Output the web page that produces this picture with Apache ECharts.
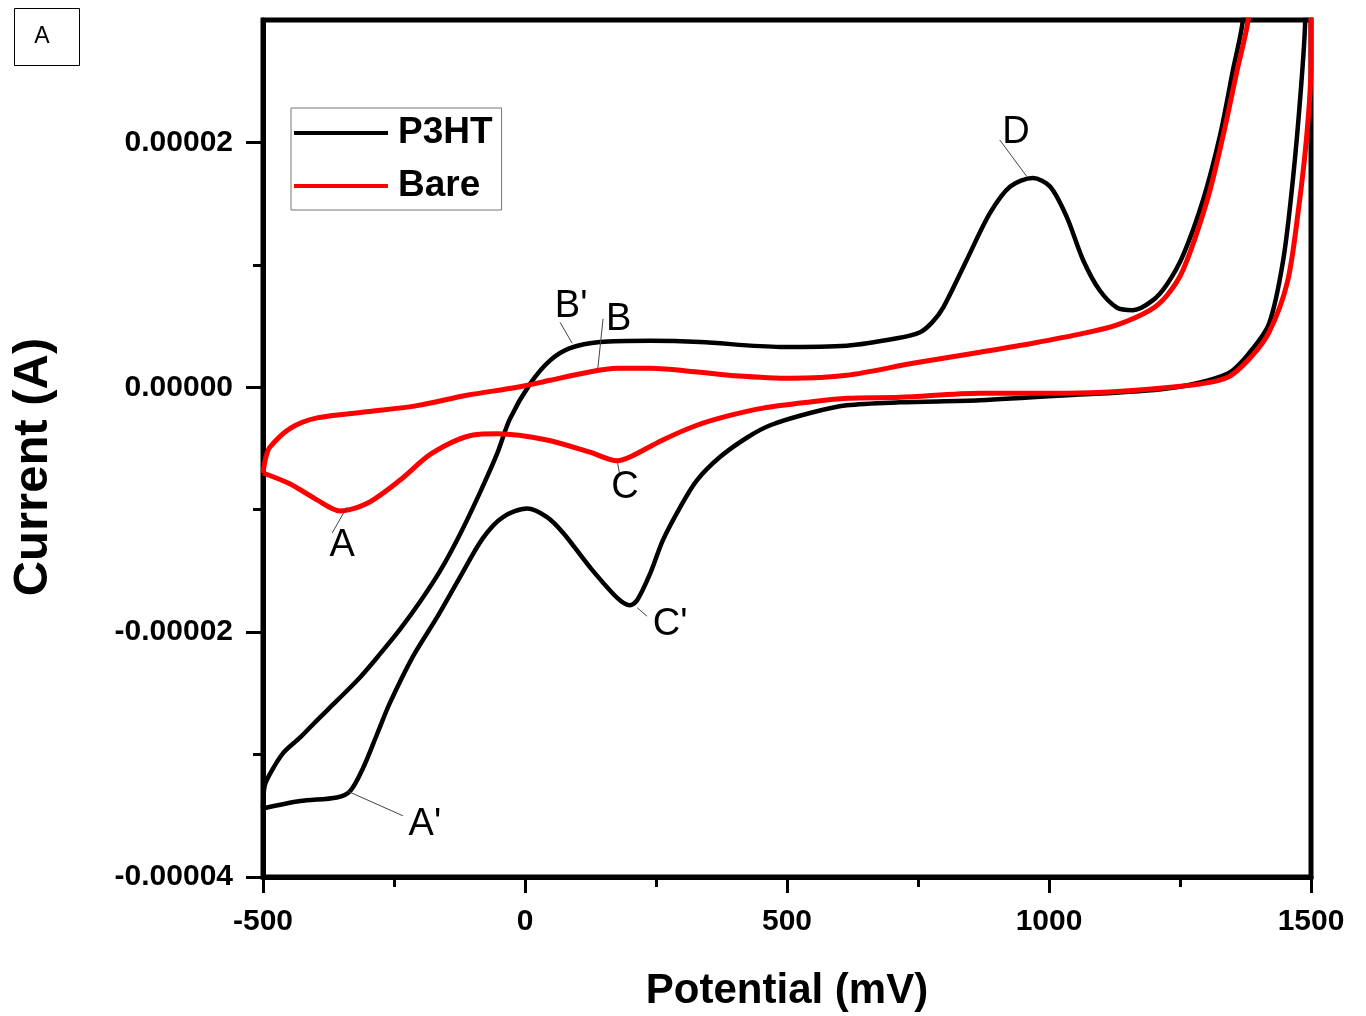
<!DOCTYPE html>
<html><head><meta charset="utf-8">
<script src="https://cdn.jsdelivr.net/npm/echarts@6/dist/echarts.min.js"></script>
<style>html,body{margin:0;padding:0;background:#fff}#chart{width:1366px;height:1016px}</style>
</head><body><div id="chart"></div>
<script>
// Axis ticks (potential in mV, current in µA; labels shown in A)
const xMajorTicks = [-500, 0, 500, 1000, 1500];
const yMajorTicks = [-40, -20, 0, 20];
const yMinorTicks = [-30, -10, 10];

// P3HT cyclic voltammogram: forward scan (-500 -> 1500) then reverse (1500 -> -500)
const p3htPotential = [-500,-497,-487,-462,-429,-397,-359,-315,-277,-239,-200,-162,-124,-86,-53,-29,10,48,86,143,239,334,487,614,710,754,777,798,843,887,926,969,1002,1034,1065,1097,1130,1160,1198,1225,1256,1294,1326,1351,1370,1400,1450,1500,
  1494,1489,1481,1466,1447,1420,1384,1340,1225,1034,868,716,614,544,468,424,372,328,296,263,239,214,200,176,124,73,42,4,-42,-80,-124,-168,-214,-258,-282,-309,-334,-359,-429,-500];
const p3htCurrent = [-34.4,-32.6,-31.6,-29.9,-28.6,-27.2,-25.6,-23.7,-21.8,-19.8,-17.5,-15.0,-12.0,-8.6,-5.4,-2.6,0.3,2.2,3.2,3.7,3.8,3.7,3.3,3.4,4.0,4.5,5.3,6.5,10.4,14.2,16.4,17.1,16.4,13.9,10.4,7.9,6.5,6.3,7.1,8.4,10.8,15.3,20.5,25.9,30.0,45,70,95,
  45,30,24.5,17.2,10.4,5.2,2.9,1.1,-0.1,-0.65,-1.06,-1.23,-1.47,-2.1,-3.1,-4.1,-5.7,-7.6,-9.8,-12.5,-15.2,-17.4,-17.8,-17.2,-14.7,-11.9,-10.6,-9.9,-10.6,-12.3,-15.5,-18.8,-22.0,-25.8,-28.3,-31.1,-33.0,-33.5,-33.8,-34.4];

// Bare electrode
const barePotential = [-500,-495,-487,-448,-397,-302,-206,-111,-15,48,111,176,239,334,400,506,614,740,868,969,1065,1130,1193,1225,1256,1302,1332,1359,1380,1420,1500,
  1500,1500,1492,1476,1455,1420,1384,1340,1256,1034,868,716,614,544,454,391,328,263,200,176,124,42,-53,-99,-178,-239,-302,-353,-397,-448,-500];
const bareCurrent = [-7.0,-5.8,-4.9,-3.35,-2.5,-2.0,-1.5,-0.65,0,0.57,1.15,1.55,1.55,1.23,0.95,0.74,0.98,1.96,2.86,3.6,4.4,5.1,6.3,7.5,9.6,15.3,20.5,25.9,30.0,45,85,
  45,26.3,20.6,14.5,8.6,4.5,2.4,0.8,0.1,-0.49,-0.49,-0.82,-0.9,-1.2,-1.7,-2.3,-3.1,-4.3,-5.7,-6.0,-5.3,-4.3,-3.8,-3.9,-5.4,-7.6,-9.5,-10.1,-9.2,-7.9,-7.0];

// Peak annotations: label, label centre, leader line end points (mV, µA)
const peakLabels = ['A', "A'", "B'", 'B', 'C', "C'", 'D'];
const peakLabelPos = [[-349,-12.9],[-191,-35.7],[88,6.6],[179,5.5],[191,-8.2],[277,-19.4],[937,20.8]];
const peakLeaderFrom = [[-340,-9.8],[-338,-33.0],[90,3.6],[139,1.55],[176,-6.0],[214,-18.0],[958,17.2]];
const peakLeaderTo = [[-368,-11.9],[-233,-35.0],[67,5.3],[149,5.6],[181,-7.2],[233,-18.7],[906,20.2]];

const FONT = '"Liberation Sans", Arial, Helvetica, sans-serif';
const zip = (xs, ys) => xs.map((x, i) => [x, ys[i]]);

const chart = echarts.init(document.getElementById('chart'), null, {renderer: 'canvas'});
chart.setOption({
  animation: false,
  backgroundColor: '#fff',
  grid: {left: 263, right: 55, top: 20, bottom: 139, show: true, borderColor: '#000', borderWidth: 5, containLabel: false, outerBoundsMode: 'none'},
  legend: {
    data: ['P3HT', 'Bare'], orient: 'vertical', left: 291, top: 108,
    padding: [5, 9, 4, 3], itemGap: 13, itemWidth: 94, itemHeight: 4, icon: 'rect',
    borderColor: '#777', borderWidth: 1, backgroundColor: '#fff',
    textStyle: {fontFamily: FONT, fontWeight: 'bold', fontSize: 37, color: '#000', lineHeight: 40, padding: [0, 0, 0, 5]}
  },
  xAxis: {
    type: 'value', min: -500, max: 1500, interval: 500,
    name: 'Potential (mV)', nameLocation: 'middle', nameGap: 93,
    nameTextStyle: {fontFamily: FONT, fontWeight: 'bold', fontSize: 42, color: '#000'},
    axisLine: {show: true, onZero: false, lineStyle: {color: '#000', width: 5}},
    axisTick: {show: true, inside: false, length: 16, lineStyle: {color: '#000', width: 3}},
    minorTick: {show: true, splitNumber: 2, length: 10, lineStyle: {color: '#000', width: 3}},
    axisLabel: {margin: 30, fontFamily: FONT, fontWeight: 'bold', fontSize: 30, color: '#000',
      formatter: v => String(v)},
    splitLine: {show: false}, minorSplitLine: {show: false}
  },
  yAxis: [{
    type: 'value', min: -40, max: 30, interval: 20,
    axisLine: {show: true, onZero: false, lineStyle: {color: '#000', width: 5}},
    axisTick: {show: true, inside: false, length: 17, lineStyle: {color: '#000', width: 3}, customValues: yMajorTicks},
    axisLabel: {margin: 30, fontFamily: FONT, fontWeight: 'bold', fontSize: 30, color: '#000',
      customValues: yMajorTicks, formatter: v => (v * 1e-6).toFixed(5)},
    splitLine: {show: false}
  }, {
    type: 'value', min: -40, max: 30, position: 'left', offset: 0,
    axisLine: {show: false, onZero: false},
    axisTick: {show: true, inside: false, length: 10, lineStyle: {color: '#000', width: 3}, customValues: yMinorTicks},
    axisLabel: {show: false},
    splitLine: {show: false}
  }],
  graphic: [
    {type: 'rect', shape: {x: 14.5, y: 8.5, width: 65, height: 57}, style: {fill: 'none', stroke: '#000', lineWidth: 1}},
    {type: 'text', x: 42, y: 37, style: {text: 'A', fontFamily: FONT, fontSize: 23, fill: '#000', align: 'center', verticalAlign: 'middle'}},
    {type: 'text', x: 33, y: 467, rotation: Math.PI / 2,
      style: {text: 'Current (A)', fontFamily: FONT, fontWeight: 'bold', fontSize: 49, fill: '#000', align: 'center', verticalAlign: 'middle'}}
  ],
  series: [
    {name: 'P3HT', type: 'line', data: zip(p3htPotential, p3htCurrent), showSymbol: false, symbol: 'none',
      smooth: 0.3, clip: true, color: '#000', lineStyle: {color: '#000', width: 4.5}, z: 3},
    {name: 'Bare', type: 'line', data: zip(barePotential, bareCurrent), showSymbol: false, symbol: 'none',
      smooth: 0.3, clip: true, color: '#ff0000', lineStyle: {color: '#ff0000', width: 5}, z: 4},
    {name: 'labels', type: 'scatter', silent: true, symbol: 'circle', symbolSize: 1,
      itemStyle: {color: 'rgba(255,255,255,0)', opacity: 1}, z: 6,
      data: peakLabels.map((t, i) => ({name: t, value: peakLabelPos[i]})),
      label: {show: true, position: 'inside', formatter: p => p.name, fontFamily: FONT, fontSize: 38, color: '#000', opacity: 1, textBorderWidth: 0},
      markLine: {silent: true, symbol: ['none', 'none'], animation: false,
        lineStyle: {color: '#444', width: 1, type: 'solid', opacity: 1}, label: {show: false},
        data: peakLeaderFrom.map((p, i) => [{coord: p}, {coord: peakLeaderTo[i]}])}
    }
  ]
});
</script>
</body></html>
